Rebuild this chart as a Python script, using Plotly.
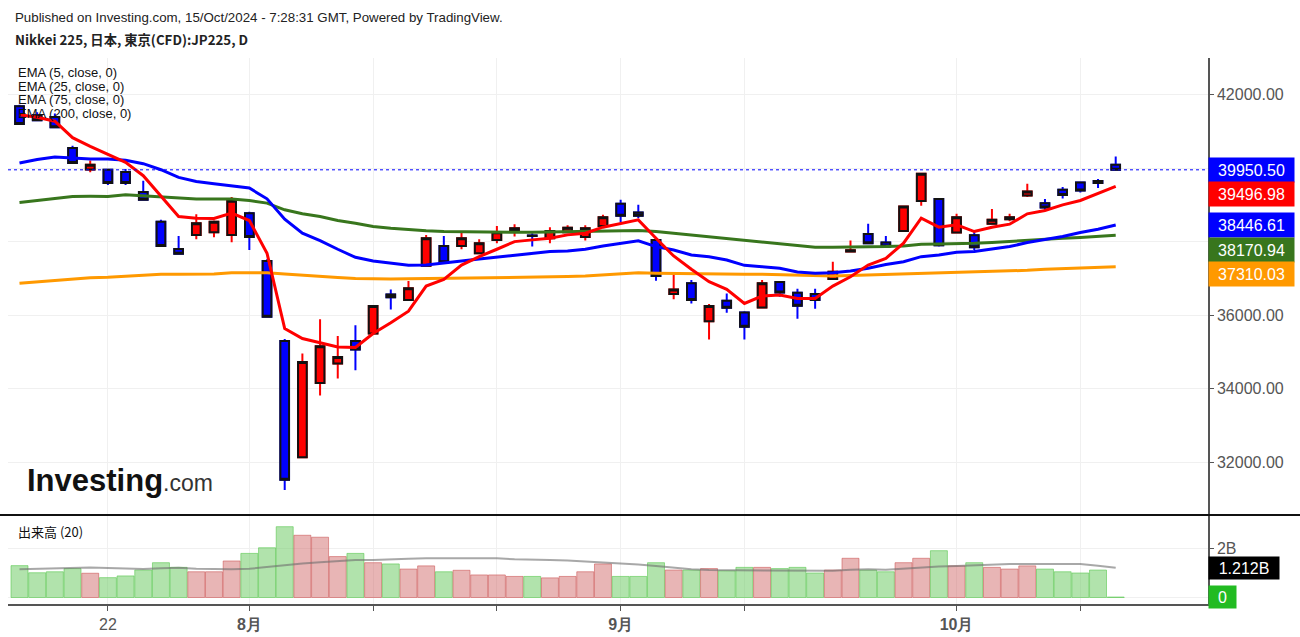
import plotly.graph_objects as go

# ---------------- data ----------------
bar_index = list(range(63))
tick_index = [5, 13, 20, 27, 34, 41, 53, 60]
tick_text = ["22", "<b>8月</b>", "", "", "<b>9月</b>", "", "<b>10月</b>", ""]

opens = [41681, 41435, 41391, 40545, 39961, 39953, 39890, 39345, 38534, 37797,
         38174, 38253, 38174, 38771, 37470, 35295, 32130, 34150, 34678, 35295,
         35497, 36561, 36405, 37342, 37880, 37880, 37682, 38044, 38289, 38160,
         38089, 38253, 38125, 38425, 39025, 38789, 38044, 36569, 36861, 35832,
         36388, 36070, 36206, 36897, 36606, 36569, 36979, 37730, 38207, 37971,
         38283, 39099, 39153, 38243, 38171, 38480, 38607, 39253, 39044, 39407,
         39607, 39648, 40090]
highs = [41720, 41517, 41481, 40608, 40207, 39970, 39972, 39653, 38589, 38152,
         38744, 38570, 39208, 38807, 37516, 35350, 34950, 35887, 35432, 35723,
         36260, 36697, 36924, 38180, 38152, 38261, 38062, 38425, 38471, 38226,
         38390, 38444, 38444, 38725, 39134, 38998, 38117, 37150, 36951, 36296,
         36588, 36105, 36951, 36910, 36716, 36716, 37451, 38024, 38480, 38152,
         38970, 39860, 39170, 38753, 38261, 38881, 38753, 39571, 39153, 39481,
         39625, 39700, 40316]
lows = [41180, 41290, 41080, 40120, 39882, 39535, 39535, 39115, 37860, 37660,
        38062, 38117, 37980, 37770, 35933, 31240, 32100, 33813, 34269, 34495,
        35480, 36152, 36390, 37330, 37410, 37789, 37670, 37953, 38135, 37862,
        37953, 38226, 38024, 38410, 38515, 38635, 36932, 36427, 36315, 35333,
        36061, 35333, 36190, 36497, 35896, 36170, 36965, 37715, 37940, 37850,
        38270, 38971, 37862, 38230, 37770, 38470, 38553, 39208, 38843, 39171,
        39334, 39454, 39940]
closes = [41200, 41300, 41108, 40136, 40090, 39590, 39590, 39137, 37880, 37669,
          38498, 38534, 39107, 38125, 35950, 31520, 34722, 35150, 34858, 35063,
          36242, 36480, 36725, 38089, 37435, 38089, 37953, 38253, 38362, 38150,
          38289, 38371, 38362, 38662, 38698, 38698, 37060, 36697, 36406, 36242,
          36197, 35677, 36861, 36615, 36251, 36406, 37178, 37760, 37953, 37862,
          38952, 39844, 37898, 38662, 37846, 38589, 38662, 39362, 38926, 39262,
          39390, 39593, 39950.50]

ema5 = [41450, 41380, 41272, 40826, 40590, 40363, 40153, 39790, 39225, 38680,
        38635, 38625, 38771, 38570, 37680, 35633, 35360, 35240, 35131, 35115,
        35497, 35788, 36105, 36787, 36970, 37360, 37587, 37789, 37997, 38044,
        38089, 38180, 38226, 38390, 38499, 38589, 38089, 37606, 37243, 36905,
        36697, 36315, 36515, 36542, 36452, 36452, 36787, 37042, 37360, 37542,
        37953, 38635, 38390, 38453, 38271, 38390, 38471, 38753, 38843, 38998,
        39116, 39298, 39496.98]
ema25 = [40136, 40230, 40300, 40272, 40245, 40245, 40208, 40117, 39953, 39743,
         39635, 39571, 39517, 39454, 39162, 38608, 38226, 38024, 37789, 37571,
         37470, 37406, 37351, 37360, 37406, 37470, 37524, 37571, 37633, 37680,
         37725, 37743, 37789, 37880, 37953, 38020, 37862, 37770, 37633, 37587,
         37497, 37351, 37315, 37270, 37170, 37134, 37152, 37200, 37270, 37375,
         37451, 37587, 37633, 37707, 37725, 37789, 37862, 37971, 38044, 38135,
         38244, 38335, 38446.61]
ema75 = [39062, 39120, 39170, 39226, 39230, 39226, 39271, 39244, 39198, 39180,
         39153, 39153, 39153, 39116, 39044, 38862, 38753, 38680, 38570, 38499,
         38407, 38360, 38316, 38290, 38271, 38262, 38253, 38253, 38253, 38253,
         38260, 38275, 38289, 38295, 38298, 38298, 38271, 38225, 38180, 38130,
         38089, 38024, 37980, 37934, 37890, 37843, 37843, 37843, 37850, 37862,
         37880, 37925, 37930, 37934, 37950, 37971, 38000, 38044, 38065, 38089,
         38110, 38135, 38170.94]
ema200 = [36861, 36900, 36940, 36980, 37015, 37025, 37050, 37080, 37107, 37110,
          37116, 37116, 37152, 37152, 37152, 37116, 37090, 37061, 37020, 36990,
          36979, 36979, 36985, 36990, 36997, 37000, 37005, 37010, 37015, 37025,
          37035, 37045, 37061, 37090, 37120, 37150, 37134, 37125, 37116, 37110,
          37107, 37107, 37107, 37100, 37090, 37070, 37061, 37075, 37088, 37107,
          37116, 37130, 37152, 37160, 37179, 37185, 37197, 37215, 37243, 37255,
          37270, 37290, 37310.03]

volume_b = [1.30, 1.01, 1.05, 1.18, 0.99, 0.81, 0.88, 1.12, 1.42, 1.23,
            1.05, 1.05, 1.49, 1.80, 2.03, 2.89, 2.54, 2.46, 1.67, 1.80,
            1.42, 1.37, 1.16, 1.29, 1.05, 1.11, 0.92, 0.92, 0.86, 0.86,
            0.80, 0.86, 1.05, 1.37, 0.86, 0.86, 1.42, 1.12, 1.12, 1.18,
            1.09, 1.23, 1.23, 1.18, 1.23, 1.00, 1.12, 1.60, 1.12, 1.05,
            1.42, 1.60, 1.91, 1.29, 1.42, 1.23, 1.16, 1.29, 1.16, 1.05,
            1.00, 1.12, 0.02]
volume_ma_b = [1.15, 1.17, 1.19, 1.22, 1.22, 1.20, 1.17, 1.16, 1.19, 1.21,
               1.17, 1.15, 1.15, 1.17, 1.25, 1.32, 1.39, 1.44, 1.49, 1.53,
               1.53, 1.54, 1.58, 1.60, 1.60, 1.60, 1.60, 1.60, 1.56, 1.53,
               1.53, 1.51, 1.47, 1.45, 1.42, 1.35, 1.29, 1.22, 1.15, 1.12,
               1.12, 1.11, 1.09, 1.09, 1.10, 1.11, 1.09, 1.13, 1.15, 1.13,
               1.18, 1.22, 1.27, 1.29, 1.32, 1.36, 1.37, 1.37, 1.37, 1.37,
               1.37, 1.30, 1.212]

price_ticks = [32000, 34000, 36000, 38000, 40000, 42000]
price_tick_text = ["32000.00", "34000.00", "36000.00", "", "", "42000.00"]

# ---------------- layout geometry ----------------
W, H = 1300, 637
ML, MR, MT, MB = 8, 92, 58, 33
PW, PH = W - ML - MR, H - MT - MB
SPLIT_PX = 515                       # pane separator (pixels from top)
vol_top = (H - MB - SPLIT_PX) / PH   # paper fraction
PRICE_RANGE = [30558, 42993]
VOL_RANGE = [-0.265e9, 3.367e9]
X_RANGE = [-0.65, 67.22]

def px(xp, yp):
    return (xp - ML) / PW, (H - MB - yp) / PH

volume = [v * 1e9 for v in volume_b]
volume_ma = [v * 1e9 for v in volume_ma_b]

body_hi = [max(o, c) for o, c in zip(opens, closes)]
body_lo = [min(o, c) for o, c in zip(opens, closes)]
up = [c >= o for o, c in zip(opens, closes)]
vol_fill = ["rgba(205,90,90,0.45)" if u else "rgba(100,200,90,0.5)" for u in up]
vol_line = ["rgba(205,90,90,0.6)" if u else "rgba(90,200,80,0.6)" for u in up]

fig = go.Figure()

# EMAs
for vals, col, name in [(ema200, "#ff9900", "EMA200"), (ema75, "#38761d", "EMA75"),
                        (ema25, "#0000ff", "EMA25"), (ema5, "#ff0000", "EMA5")]:
    fig.add_trace(go.Scatter(x=bar_index, y=vals, mode="lines", name=name,
                             line=dict(color=col, width=3), xaxis="x2", yaxis="y",
                             hoverinfo="skip"))

# candles: wicks (coloured) then bodies (black outline)
fig.add_trace(go.Candlestick(
    x=bar_index, open=opens, high=highs, low=lows, close=closes,
    increasing=dict(line=dict(color="#ff0000", width=2), fillcolor="#ff0000"),
    decreasing=dict(line=dict(color="#0000ff", width=2), fillcolor="#0000ff"),
    xaxis="x2", yaxis="y", hoverinfo="skip", name="wick"))
fig.add_trace(go.Candlestick(
    x=bar_index, open=opens, high=body_hi, low=body_lo, close=closes,
    increasing=dict(line=dict(color="#111111", width=2), fillcolor="#ff0000"),
    decreasing=dict(line=dict(color="#111111", width=2), fillcolor="#0000ff"),
    xaxis="x2", yaxis="y", hoverinfo="skip", name="body"))

# volume
fig.add_trace(go.Bar(x=bar_index, y=volume, marker=dict(color=vol_fill,
                     line=dict(color=vol_line, width=1)),
                     xaxis="x", yaxis="y2", hoverinfo="skip", name="vol"))
fig.add_trace(go.Scatter(x=bar_index, y=volume_ma, mode="lines",
                         line=dict(color="rgba(110,110,110,0.6)", width=2),
                         xaxis="x", yaxis="y2", hoverinfo="skip", name="volma"))

axis_font = dict(family="Liberation Sans, Arial, sans-serif", size=16, color="#555555")

fig.update_layout(
    width=W, height=H, margin=dict(l=ML, r=MR, t=MT, b=MB, autoexpand=False),
    paper_bgcolor="white", plot_bgcolor="white", showlegend=False,
    boxgap=0.3, bargap=0.04,
    xaxis=dict(domain=[0, 1], anchor="y2", range=X_RANGE, tickmode="array",
               tickvals=tick_index, ticktext=tick_text, showgrid=True, automargin=False,
               gridcolor="#f0f0f0", gridwidth=1, zeroline=False, showline=True,
               linecolor="#555555", linewidth=2, ticks="outside", ticklen=5,
               tickcolor="#555555", tickfont=axis_font, rangeslider=dict(visible=False)),
    xaxis2=dict(domain=[0, 1], anchor="y", matches="x", range=X_RANGE, tickmode="array",
                tickvals=tick_index, showticklabels=False, showgrid=True, automargin=False,
                gridcolor="#f0f0f0", gridwidth=1, zeroline=False, showline=False,
                ticks="", rangeslider=dict(visible=False)),
    yaxis=dict(domain=[vol_top, 1], anchor="x2", side="right", range=PRICE_RANGE,
               tickmode="array", tickvals=price_ticks, ticktext=price_tick_text,
               showgrid=True, gridcolor="#f0f0f0", zeroline=False, showline=True,
               linecolor="#555555", linewidth=1.5, ticks="outside", ticklen=4,
               tickcolor="#555555", tickfont=axis_font, automargin=False),
    yaxis2=dict(domain=[0, vol_top], anchor="x", side="right", range=VOL_RANGE,
                tickmode="array", tickvals=[0, 2e9], ticktext=["", "2B"],
                showgrid=True, gridcolor="#f0f0f0", zeroline=False, showline=True,
                linecolor="#555555", linewidth=1.5, ticks="outside", ticklen=4,
                tickcolor="#555555", tickfont=axis_font, automargin=False),
)

# last price dotted line
fig.add_shape(type="line", xref="paper", yref="y", x0=0, x1=1,
              y0=closes[-1], y1=closes[-1], line=dict(color="#0000ff", width=1, dash="dot"))
# pane separator
sx0, sy = px(0, SPLIT_PX)
sx1, _ = px(W, SPLIT_PX)
fig.add_shape(type="line", xref="paper", yref="paper", x0=sx0, x1=sx1, y0=sy, y1=sy,
              line=dict(color="#111111", width=2))

# price labels on the right axis, pushed apart to avoid overlap
price_px_per_unit = (SPLIT_PX - MT) / (PRICE_RANGE[1] - PRICE_RANGE[0])
min_sep = 24.5 / price_px_per_unit
labels = sorted([(closes[-1], "#0000ff"), (ema5[-1], "#ff0000"), (ema25[-1], "#0000ff"),
                 (ema75[-1], "#38761d"), (ema200[-1], "#ff9900")], key=lambda t: -t[0])
prev = None
for val, col in labels:
    ypos = val if prev is None else min(val, prev - min_sep)
    prev = ypos
    fig.add_annotation(x=1, xref="paper", y=ypos, yref="y", xanchor="left", yanchor="middle",
                       text=f"{val:.2f}", showarrow=False, bgcolor=col, width=83, height=22,
                       borderpad=1, align="center",
                       font=dict(family="Liberation Sans, Arial, sans-serif", size=16, color="white"))

# volume labels
fig.add_annotation(x=1, xref="paper", y=volume_ma[-1], yref="y2", xanchor="left", yanchor="middle",
                   text=f"{volume_ma[-1] / 1e9:.3f}B", showarrow=False, bgcolor="#000000",
                   width=68, height=20, borderpad=1, align="center",
                   font=dict(family="Liberation Sans, Arial, sans-serif", size=16, color="white"))
fig.add_annotation(x=1, xref="paper", y=volume[-1], yref="y2", xanchor="left", yanchor="middle",
                   text=f"{volume[-1] / 1e9:.0f}", showarrow=False, bgcolor="#22bb22",
                   width=25, height=20, borderpad=1, align="center",
                   font=dict(family="Liberation Sans, Arial, sans-serif", size=16, color="white"))

# texts
def text(xp, yp, s, size=13, color="#222222", family="Liberation Sans, Arial, sans-serif",
         yanchor="middle"):
    ax, ay = px(xp, yp)
    fig.add_annotation(x=ax, y=ay, xref="paper", yref="paper", xanchor="left", yanchor=yanchor,
                       text=s, showarrow=False, font=dict(family=family, size=size, color=color))

text(13, 17, "Published on Investing.com, 15/Oct/2024 - 7:28:31 GMT, Powered by TradingView.",
     size=13.3)
text(13, 40, "<b>Nikkei 225, 日本, 東京(CFD):JP225, D</b>",
     family="Noto Sans CJK JP, Noto Sans, sans-serif", size=13.3)
for k, lab in enumerate(["EMA (5, close, 0)", "EMA (25, close, 0)",
                         "EMA (75, close, 0)", "EMA (200, close, 0)"]):
    text(16, 72 + 14 * k, lab, color="#111111")
text(16, 531, "出来高 (20)", color="#111111", family="Noto Sans CJK JP, Liberation Sans, sans-serif")
text(25, 480, "<b>Investing</b><span style='font-size:23px;color:#333333'>.com</span>",
     size=31, color="#111111")

fig.write_html("out.html", config={"displayModeBar": False},
               post_script="document.body.style.margin='0';")
